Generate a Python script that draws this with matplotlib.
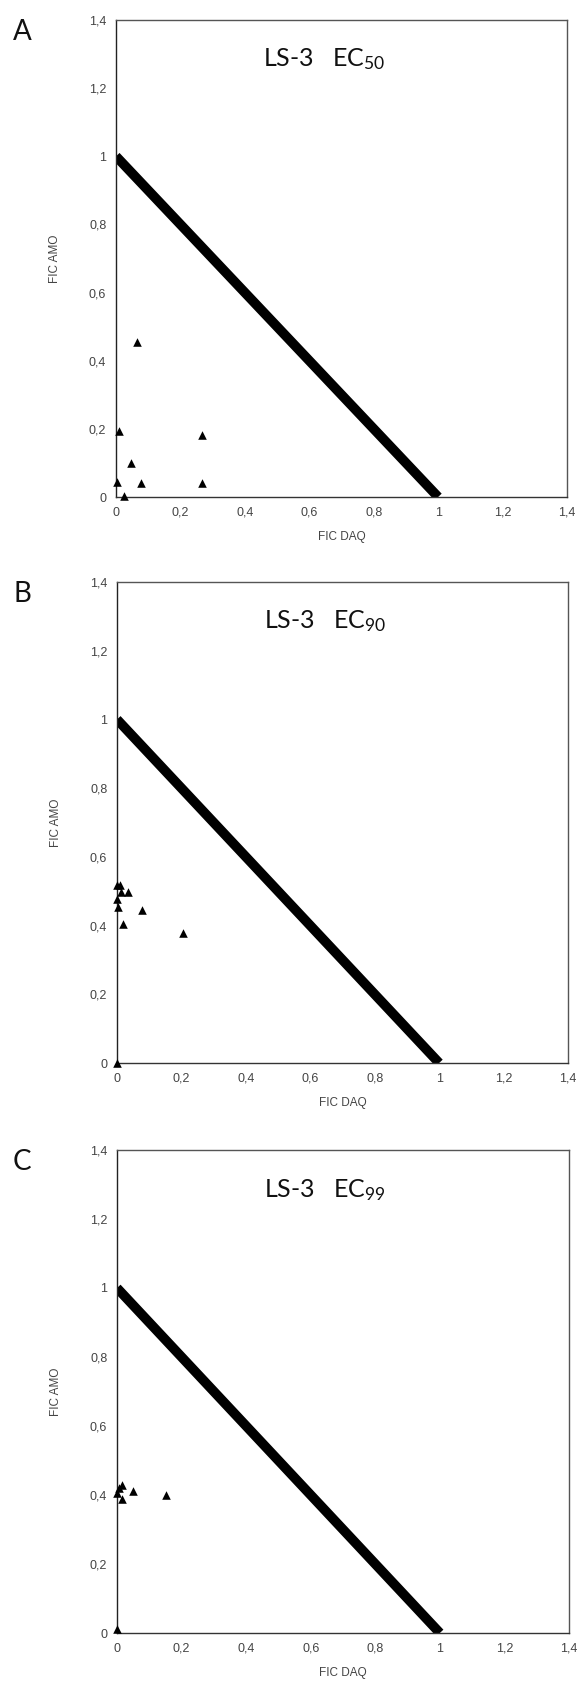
import numpy as np
import matplotlib
matplotlib.use("Agg")
import matplotlib.pyplot as plt

plt.rcParams.update({"font.family": ["Liberation Sans", "DejaVu Sans"],
                     "mathtext.default": "regular"})

# isobologram points (FIC DAQ, FIC AMO)
a_x = [0.066, 0.008, 0.268, 0.048, 0.003, 0.079, 0.268, 0.026]
a_y = [0.456, 0.194, 0.183, 0.099, 0.044, 0.040, 0.041, 0.003]

b_x = [0.0, 0.010, 0.012, 0.033, 0.0, 0.002, 0.020, 0.079, 0.204, 0.0]
b_y = [0.517, 0.517, 0.498, 0.498, 0.476, 0.454, 0.406, 0.444, 0.379, 0.0]

c_x = [0.0, 0.005, 0.015, 0.015, 0.051, 0.153, 0.0]
c_y = [0.405, 0.420, 0.429, 0.387, 0.411, 0.399, 0.013]

panels = ["A", "B", "C"]
levels = ["50", "90", "99"]
xs = [a_x, b_x, c_x]
ys = [a_y, b_y, c_y]

ticks = [0, 0.2, 0.4, 0.6, 0.8, 1.0, 1.2, 1.4]
tick_lbl = ["0", "0,2", "0,4", "0,6", "0,8", "1", "1,2", "1,4"]

# additivity line
add_x = [0, 1]
add_y = [1, 0]

W, H = 587, 1685
fig = plt.figure(figsize=(W / 100, H / 100), dpi=100)

# axes boxes in pixels: left, top, right, bottom
boxes = [(116, 20, 567, 497), (117, 582, 568, 1063), (117, 1150, 569, 1633)]

for k in range(3):
    l, t, r, b = boxes[k]
    ax = fig.add_axes([l / W, 1 - b / H, (r - l) / W, (b - t) / H])
    ax.plot(add_x, add_y, color="black", lw=7, solid_capstyle="butt")
    ax.scatter(xs[k], ys[k], marker="^", s=38, color="black", zorder=3,
               clip_on=False, linewidths=0)
    ax.set_xlim(0, 1.4)
    ax.set_ylim(0, 1.4)
    ax.set_xticks(ticks)
    ax.set_xticklabels(tick_lbl)
    ax.set_yticks(ticks)
    ax.set_yticklabels(tick_lbl)
    ax.tick_params(length=0, labelsize=9, colors="#444", pad=7)
    for s in ax.spines.values():
        s.set_color("#555")
        s.set_linewidth(1.0)
    ax.spines["left"].set_color("#222")
    ax.spines["bottom"].set_color("#333")
    ax.set_xlabel("FIC DAQ", fontsize=8.5, color="#444", labelpad=9)
    ax.set_ylabel("FIC AMO", fontsize=8.5, color="#444", labelpad=20)
    ax.text(0.645, 1.285, "LS-3   EC$_{%s}$" % levels[k], fontsize=18,
            ha="center", va="center", color="#111",
            family=["Lato", "DejaVu Sans"])
    fig.text(22 / W, 1 - (t + 12) / H, panels[k], fontsize=20, ha="center",
             va="center", color="#111", family=["Lato", "DejaVu Sans"])

fig.savefig("out.png", dpi=100)
